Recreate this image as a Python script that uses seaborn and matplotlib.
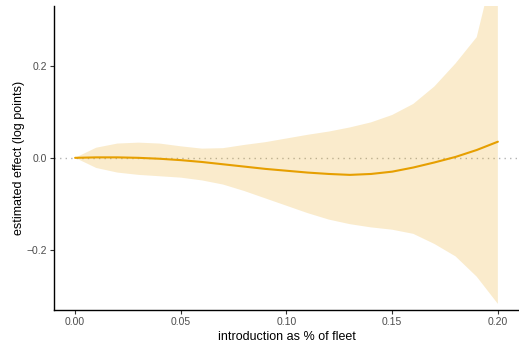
import numpy as np
import pandas as pd
import matplotlib
matplotlib.use("Agg")
import matplotlib.pyplot as plt
import seaborn as sns

# Share of fleet introduced
share = [0.00, 0.01, 0.02, 0.03, 0.04, 0.05, 0.06, 0.07, 0.08, 0.09, 0.10,
         0.11, 0.12, 0.13, 0.14, 0.15, 0.16, 0.17, 0.18, 0.19, 0.20]
# Estimated effect (log points)
effect = [0.000, 0.001, 0.001, 0.000, -0.002, -0.005, -0.009, -0.014, -0.019,
          -0.024, -0.028, -0.032, -0.035, -0.037, -0.035, -0.030, -0.021,
          -0.010, 0.002, 0.017, 0.035]
# Confidence band
lower = [0.000, -0.022, -0.032, -0.037, -0.040, -0.043, -0.049, -0.058,
         -0.072, -0.088, -0.104, -0.120, -0.134, -0.144, -0.151, -0.156,
         -0.165, -0.187, -0.214, -0.258, -0.317]
upper = [0.000, 0.022, 0.031, 0.033, 0.031, 0.025, 0.020, 0.021, 0.028,
         0.034, 0.042, 0.050, 0.057, 0.066, 0.077, 0.093, 0.117, 0.155,
         0.205, 0.262, 0.450]

df = pd.DataFrame({"share": share, "effect": effect,
                   "lower": lower, "upper": upper})

sns.set_theme(style="ticks")
plt.rcParams["font.family"] = ["Liberation Sans", "DejaVu Sans"]

fig = plt.figure(figsize=(5.19, 3.42), dpi=100)
ax = fig.add_axes([0.104, 0.094, 0.896, 0.889])

orange = "#E69F00"
ax.axhline(0, color="#B3B3B3", lw=1.0, ls=(0, (1, 3)), zorder=1)
ax.fill_between(df["share"], df["lower"], df["upper"], color=orange,
                alpha=0.2, lw=0, zorder=2)
sns.lineplot(data=df, x="share", y="effect", color=orange, lw=1.5,
             ax=ax, zorder=3)

ax.set_xlim(-0.01, 0.21)
ax.set_ylim(-0.33, 0.33)
ax.set_xticks([0.00, 0.05, 0.10, 0.15, 0.20])
ax.set_xticklabels(["0.00", "0.05", "0.10", "0.15", "0.20"])
ax.set_yticks([-0.2, 0.0, 0.2])
ax.set_yticklabels(["\u22120.2", "0.0", "0.2"])

ax.set_xlabel("introduction as % of fleet", fontsize=9, color="black",
              labelpad=3)
ax.set_ylabel("estimated effect (log points)", fontsize=9, color="black",
              labelpad=1)
ax.tick_params(axis="both", labelsize=7.5, labelcolor="#4D4D4D",
               color="#333333", length=3, width=0.8, pad=2)

for side in ["top", "right"]:
    ax.spines[side].set_visible(False)
for side in ["left", "bottom"]:
    ax.spines[side].set_color("black")
    ax.spines[side].set_linewidth(1.0)

fig.savefig("out.png", dpi=100)
